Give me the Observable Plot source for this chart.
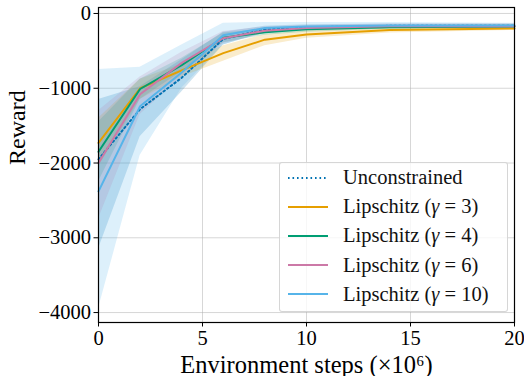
<!DOCTYPE html>
<html>
<head>
<meta charset="utf-8">
<script src="https://cdn.jsdelivr.net/npm/d3@7"></script>
<script src="https://cdn.jsdelivr.net/npm/@observablehq/plot@0.6"></script>
<style>
  html, body { margin: 0; padding: 0; background: white; }
  #wrap { position: relative; width: 524px; height: 376px; font-family: "Liberation Serif", serif; }
  #legend { position: absolute; left: 279px; top: 162px; width: 229px; height: 150px;
    background: rgba(255,255,255,0.8); border: 1px solid rgba(204,204,204,0.8); border-radius: 3px; box-sizing: border-box; padding-top: 0px; }
  .row { display: flex; align-items: center; height: 29.2px; }
  .row svg { margin-left: 8px; margin-right: 15px; }
  .row span { font-size: 20.5px; color: #111; white-space: nowrap; }
</style>
</head>
<body>
<div id="wrap"></div>
<script>
// ---- data ----
const steps = [0, 2, 4, 6, 8, 10, 14, 20];
const seriesNames = ["Unconstrained", "Lipschitz (γ = 3)", "Lipschitz (γ = 4)", "Lipschitz (γ = 6)", "Lipschitz (γ = 10)"];
const seriesColors = ["#0072B2", "#E69F00", "#009E73", "#CC79A7", "#56B4E9"];

const unconstrainedMean = [-1950, -1280, -860, -340, -215, -185, -165, -165];
const lip3Mean  = [-1730, -1000, -760, -530, -350, -280, -220, -200];
const lip4Mean  = [-1850, -1010, -690, -325, -250, -210, -185, -175];
const lip6Mean  = [-2000, -1080, -660, -330, -230, -195, -170, -170];
const lip10Mean = [-2380, -1240, -790, -290, -195, -175, -160, -160];

const unconstrainedLo = [-3150, -1650, -1050, -420, -260, -220, -190, -190];
const unconstrainedHi = [-1150, -980, -620, -250, -170, -150, -140, -140];
const lip3Lo  = [-2050, -1150, -850, -640, -430, -330, -260, -225];
const lip3Hi  = [-1400, -880, -680, -430, -280, -230, -190, -180];
const lip4Lo  = [-2250, -1150, -780, -390, -290, -250, -210, -200];
const lip4Hi  = [-1450, -880, -600, -260, -210, -180, -160, -150];
const lip6Lo  = [-2750, -1350, -850, -400, -270, -230, -200, -200];
const lip6Hi  = [-1300, -850, -520, -240, -180, -160, -140, -140];
const lip10Lo = [-3950, -1900, -1000, -420, -250, -220, -190, -190];
const lip10Hi = [-750, -720, -420, -130, -120, -120, -120, -130];

const xTicks = [0, 5, 10, 15, 20];
const yTicks = [0, -1000, -2000, -3000, -4000];

// ---- build tables ----
const means = [unconstrainedMean, lip3Mean, lip4Mean, lip6Mean, lip10Mean];
const los = [unconstrainedLo, lip3Lo, lip4Lo, lip6Lo, lip10Lo];
const his = [unconstrainedHi, lip3Hi, lip4Hi, lip6Hi, lip10Hi];
const tables = seriesNames.map((name, i) => steps.map((s, j) => ({
  series: name, x: s, y: means[i][j], lo: los[i][j], hi: his[i][j]
})));

const fmt = d => d < 0 ? "\u2212" + Math.abs(d) : String(d);

const marks = [
  Plot.gridX(xTicks, {stroke: "#b0b0b0", strokeOpacity: 0.5, strokeWidth: 1}),
  Plot.gridY(yTicks, {stroke: "#b0b0b0", strokeOpacity: 0.5, strokeWidth: 1}),
];
for (const i of [0, 1, 2, 3, 4]) {
  marks.push(Plot.areaY(tables[i], {x: "x", y1: "lo", y2: "hi", fill: seriesColors[i], fillOpacity: 0.2}));
}
marks.push(Plot.line(tables[0], {x: "x", y: "y", stroke: seriesColors[0], strokeWidth: 2, strokeDasharray: "1.6,2.9"}));
for (const i of [1, 2, 3, 4]) {
  marks.push(Plot.line(tables[i], {x: "x", y: "y", stroke: seriesColors[i], strokeWidth: 2}));
}
marks.push(
  Plot.frame({stroke: "black", strokeWidth: 1.2}),
  Plot.axisX(xTicks, {tickSize: 4.5, tickPadding: 3, label: null, fontSize: 20.5, tickFormat: fmt}),
  Plot.axisY(yTicks, {tickSize: 4.5, tickPadding: 3, label: null, fontSize: 20.5, tickFormat: fmt}),
  Plot.text(["Environment steps (×10⁶)"], {frameAnchor: "bottom", dy: 50, fontSize: 24.5, lineAnchor: "bottom"}),
  Plot.text(["Reward"], {frameAnchor: "left", dx: -81, rotate: -90, fontSize: 24})
);

const chart = Plot.plot({
  width: 524, height: 376,
  marginLeft: 98, marginRight: 10, marginTop: 7, marginBottom: 54,
  x: {domain: [0, 20]},
  y: {domain: [-4133, 80]},
  style: {fontFamily: "Liberation Serif", fontSize: "20px", background: "white", overflow: "visible", color: "black"},
  marks
});

const wrap = document.getElementById("wrap");
wrap.appendChild(chart);

// legend
const legend = document.createElement("div");
legend.id = "legend";
seriesNames.forEach((name, i) => {
  const row = document.createElement("div");
  row.className = "row";
  const dash = i === 0 ? 'stroke-dasharray="1.6,2.9"' : '';
  const label = name.replace("γ", "<i>γ</i>");
  row.innerHTML = `<svg width="40" height="6"><line x1="0" y1="3" x2="40" y2="3" stroke="${seriesColors[i]}" stroke-width="2" ${dash}/></svg><span>${label}</span>`;
  legend.appendChild(row);
});
wrap.appendChild(legend);
</script>
</body>
</html>
